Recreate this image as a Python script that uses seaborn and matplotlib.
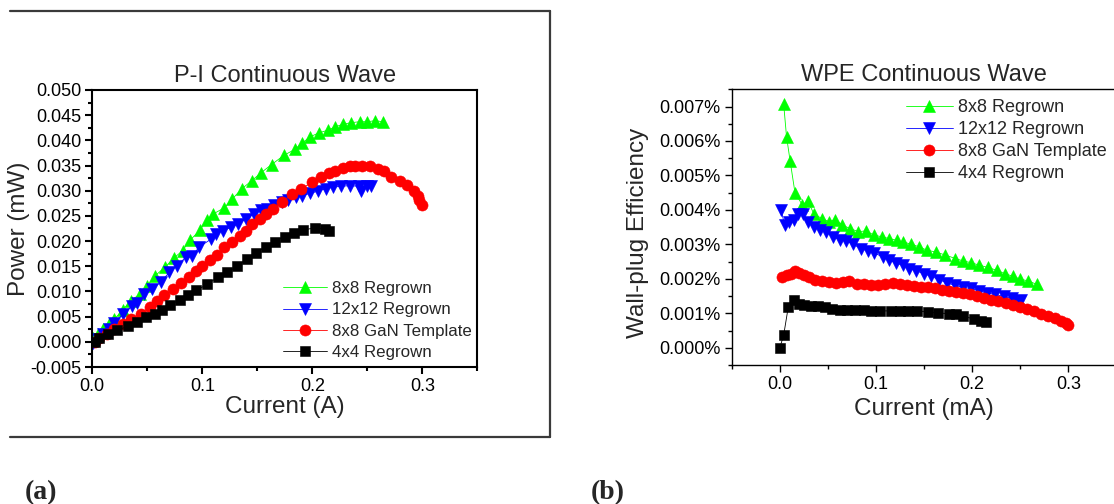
import numpy as np
import matplotlib
matplotlib.use("Agg")
import matplotlib.pyplot as plt
from matplotlib.lines import Line2D
from matplotlib.ticker import MultipleLocator, FuncFormatter
import seaborn as sns

# ---- data ----
series_names = ["8x8 Regrown", "12x12 Regrown", "8x8 GaN Template", "4x4 Regrown"]
series_colors = ["#00ff00", "#0000ff", "#ff0000", "#000000"]
series_markers = ["^", "v", "o", "s"]

# (a) P-I, current (A) vs power (mW)
pi_8x8_x = [0.001, 0.005, 0.010, 0.015, 0.020, 0.028, 0.035, 0.043, 0.050, 0.057, 0.066, 0.074,
            0.082, 0.089, 0.098, 0.104, 0.110, 0.120, 0.127, 0.136, 0.145, 0.153, 0.163, 0.174,
            0.184, 0.191, 0.198, 0.206, 0.214, 0.221, 0.228, 0.235, 0.243, 0.250, 0.257, 0.264]
pi_8x8_y = [0.0008, 0.0015, 0.0025, 0.0035, 0.0045, 0.0064, 0.0082, 0.0094, 0.0111, 0.0131, 0.0148, 0.0166,
            0.0181, 0.0202, 0.0222, 0.0242, 0.0254, 0.0266, 0.0283, 0.0304, 0.0320, 0.0335, 0.0352, 0.0370,
            0.0382, 0.0395, 0.0407, 0.0415, 0.0420, 0.0427, 0.0432, 0.0435, 0.0437, 0.0437, 0.0439, 0.0437]

pi_12x12_x = [0.001, 0.005, 0.010, 0.015, 0.020, 0.028, 0.036, 0.041, 0.047, 0.054, 0.062, 0.070,
              0.077, 0.085, 0.091, 0.097, 0.108, 0.112, 0.119, 0.126, 0.132, 0.140, 0.147, 0.153,
              0.159, 0.165, 0.172, 0.178, 0.185, 0.191, 0.198, 0.205, 0.212, 0.219, 0.226, 0.234,
              0.242, 0.244, 0.250, 0.253]
pi_12x12_y = [-0.0002, 0.0005, 0.0015, 0.0025, 0.0038, 0.0055, 0.0071, 0.0078, 0.0094, 0.0104, 0.0118, 0.0138,
              0.0151, 0.0168, 0.0171, 0.0188, 0.0204, 0.0214, 0.0221, 0.0227, 0.0234, 0.0244, 0.0254, 0.0261,
              0.0264, 0.0271, 0.0277, 0.0281, 0.0287, 0.0290, 0.0295, 0.0299, 0.0304, 0.0307, 0.0309, 0.0310,
              0.0309, 0.0300, 0.0310, 0.0310]

pi_gan_x = [0.002, 0.0065, 0.013, 0.0195, 0.0276, 0.035, 0.0439, 0.052, 0.0585, 0.0656, 0.0731, 0.0806,
            0.0877, 0.0943, 0.1001, 0.1072, 0.1137, 0.1196, 0.1267, 0.1339, 0.1397, 0.1456, 0.1521, 0.1576,
            0.1641, 0.1722, 0.1813, 0.1901, 0.1999, 0.208, 0.2151, 0.221, 0.2275, 0.234, 0.2389, 0.2454,
            0.2528, 0.2593, 0.2649, 0.2714, 0.2795, 0.286, 0.2925, 0.2957, 0.2974, 0.2996]
pi_gan_y = [0.0000, 0.0007, 0.0015, 0.0025, 0.0035, 0.0045, 0.0056, 0.0069, 0.0082, 0.0093, 0.0104, 0.0116,
            0.0129, 0.0141, 0.0151, 0.0162, 0.0173, 0.0188, 0.0199, 0.0211, 0.0221, 0.0233, 0.0244, 0.0254,
            0.0264, 0.0277, 0.0293, 0.0304, 0.0317, 0.0327, 0.0335, 0.0340, 0.0346, 0.0349, 0.0350, 0.0350,
            0.0350, 0.0344, 0.0339, 0.0327, 0.0319, 0.0311, 0.0299, 0.0289, 0.0282, 0.0271]

pi_4x4_x = [0.002, 0.0065, 0.0146, 0.0227, 0.0325, 0.0406, 0.0487, 0.0569, 0.0634, 0.0708, 0.0796, 0.0871,
            0.0942, 0.1046, 0.1144, 0.1228, 0.1316, 0.1404, 0.1488, 0.1576, 0.1657, 0.1748, 0.1836, 0.1911,
            0.2021, 0.2112, 0.2151]
pi_4x4_y = [0.0000, 0.0007, 0.0015, 0.0023, 0.0031, 0.0040, 0.0049, 0.0056, 0.0063, 0.0073, 0.0084, 0.0093,
            0.0102, 0.0114, 0.0129, 0.0138, 0.0150, 0.0164, 0.0176, 0.0189, 0.0199, 0.0209, 0.0216, 0.0222,
            0.0226, 0.0224, 0.0220]

# (b) WPE, current vs wall-plug efficiency (in %)
wpe_8x8_x = [0.004, 0.007, 0.0107, 0.0158, 0.0235, 0.029, 0.0356, 0.0437, 0.051, 0.0577, 0.065, 0.0731,
             0.0815, 0.0896, 0.098, 0.1061, 0.1135, 0.1216, 0.1282, 0.1362, 0.1447, 0.1531, 0.162, 0.1722,
             0.1825, 0.1906, 0.1987, 0.2071, 0.2163, 0.2255, 0.2339, 0.242, 0.2501, 0.2585, 0.267]
wpe_8x8_y = [0.00708, 0.00613, 0.00543, 0.00450, 0.00414, 0.00426, 0.00388, 0.00375, 0.00366, 0.00372, 0.00356, 0.00346,
             0.00337, 0.00339, 0.00327, 0.00322, 0.00317, 0.00312, 0.00307, 0.00301, 0.00293, 0.00283, 0.00278, 0.00269,
             0.00259, 0.00252, 0.00247, 0.00240, 0.00233, 0.00225, 0.00215, 0.00208, 0.00199, 0.00194, 0.00184]

wpe_12x12_x = [0.0015, 0.005, 0.0099, 0.0143, 0.0187, 0.0246, 0.0297, 0.0356, 0.0419, 0.0481, 0.0555, 0.0621,
               0.0687, 0.076, 0.0841, 0.0914, 0.0981, 0.1069, 0.1135, 0.1208, 0.1282, 0.1348, 0.1421, 0.1502,
               0.1575, 0.1656, 0.1741, 0.1825, 0.1906, 0.1987, 0.2071, 0.2156, 0.2237, 0.2328, 0.2413, 0.2464,
               0.2512]
wpe_12x12_y = [0.00399, 0.00356, 0.00366, 0.00372, 0.00388, 0.00388, 0.00366, 0.00351, 0.00343, 0.00336, 0.00322, 0.00314,
               0.00310, 0.00301, 0.00288, 0.00281, 0.00275, 0.00264, 0.00254, 0.00246, 0.00239, 0.00230, 0.00223, 0.00215,
               0.00207, 0.00198, 0.00188, 0.00181, 0.00175, 0.00172, 0.00165, 0.00159, 0.00155, 0.00149, 0.00143, 0.00136,
               0.00140]

wpe_gan_x = [0.0026, 0.007, 0.0114, 0.0154, 0.0198, 0.0253, 0.0308, 0.0364, 0.0437, 0.051, 0.0584, 0.0657,
             0.0723, 0.0804, 0.0878, 0.0951, 0.1025, 0.1098, 0.1172, 0.1245, 0.1318, 0.1392, 0.1465, 0.1539,
             0.1612, 0.1686, 0.1759, 0.1833, 0.1906, 0.198, 0.2053, 0.2126, 0.22, 0.2273, 0.2347, 0.242,
             0.2494, 0.2567, 0.2641, 0.2714, 0.2787, 0.2861, 0.2927, 0.2971, 0.300]
wpe_gan_y = [0.00206, 0.00210, 0.00215, 0.00223, 0.00217, 0.00210, 0.00204, 0.00198, 0.00194, 0.00191, 0.00189, 0.00191,
             0.00194, 0.00186, 0.00184, 0.00183, 0.00181, 0.00186, 0.00189, 0.00184, 0.00181, 0.00178, 0.00176, 0.00175,
             0.00172, 0.00169, 0.00165, 0.00162, 0.00159, 0.00155, 0.00149, 0.00144, 0.00140, 0.00136, 0.00130, 0.00125,
             0.00118, 0.00113, 0.00107, 0.00099, 0.00091, 0.00087, 0.00079, 0.00072, 0.00065]

wpe_4x4_x = [0.000, 0.004, 0.0088, 0.0143, 0.0198, 0.0253, 0.0327, 0.040, 0.0474, 0.0547, 0.0621, 0.0701,
             0.0786, 0.0878, 0.0951, 0.1043, 0.1153, 0.1245, 0.1337, 0.1429, 0.1539, 0.1649, 0.1759, 0.1833,
             0.1906, 0.2016, 0.209, 0.2145]
wpe_4x4_y = [0.00000, 0.00036, 0.00118, 0.00138, 0.00128, 0.00123, 0.00121, 0.00121, 0.00118, 0.00113, 0.00110, 0.00109,
             0.00109, 0.00109, 0.00107, 0.00107, 0.00107, 0.00107, 0.00106, 0.00106, 0.00104, 0.00101, 0.00099, 0.00097,
             0.00091, 0.00084, 0.00079, 0.00075]

pi_series = [(pi_8x8_x, pi_8x8_y), (pi_12x12_x, pi_12x12_y), (pi_gan_x, pi_gan_y), (pi_4x4_x, pi_4x4_y)]
wpe_series = [(wpe_8x8_x, wpe_8x8_y), (wpe_12x12_x, wpe_12x12_y), (wpe_gan_x, wpe_gan_y), (wpe_4x4_x, wpe_4x4_y)]

# ---- style ----
sns.set_theme(style="white")
plt.rcParams["font.family"] = ["Liberation Sans", "DejaVu Sans"]
plt.rcParams["axes.unicode_minus"] = False

W, H = 1114, 504
fig = plt.figure(figsize=(W / 100, H / 100), dpi=100)

def fx(px):
    return px / W

def fy(py):
    return 1 - py / H

marker_sizes = [8.5, 8.5, 8, 6.5]


def draw(ax, series, spine_w):
    for (xs, ys), name, col, mk, ms in zip(series, series_names, series_colors, series_markers, marker_sizes):
        sns.lineplot(x=xs, y=ys, ax=ax, sort=False, estimator=None, color=col, linewidth=0.6,
                     marker=mk, markersize=ms, markeredgecolor=col, markeredgewidth=0.4,
                     markerfacecolor=col, label=name)
    for s in ax.spines.values():
        s.set_linewidth(spine_w)
        s.set_color("black")
    ax.tick_params(which="both", direction="out", left=True, bottom=True, colors="black",
                   labelsize=13, width=spine_w)
    ax.tick_params(which="major", length=5, pad=3)
    ax.tick_params(which="minor", length=3)


# (a) P-I
ax1 = fig.add_axes([fx(92.3), fy(367), fx(477.3 - 92.3), (367 - 90) / H])
draw(ax1, pi_series, 1.5)
ax1.set_xlim(0, 0.35)
ax1.set_ylim(-0.005, 0.050)
ax1.xaxis.set_major_locator(MultipleLocator(0.1))
ax1.xaxis.set_minor_locator(MultipleLocator(0.05))
ax1.yaxis.set_major_locator(MultipleLocator(0.005))
ax1.yaxis.set_minor_locator(MultipleLocator(0.0025))
ax1.xaxis.set_major_formatter(FuncFormatter(lambda v, p: f"{v:.1f}"))
ax1.yaxis.set_major_formatter(FuncFormatter(lambda v, p: f"{v:.3f}"))
ax1.set_title("P-I Continuous Wave", fontsize=17, pad=6)
ax1.set_xlabel("Current (A)", fontsize=17.5)
ax1.set_ylabel("Power (mW)", fontsize=17.5)
ax1.xaxis.set_label_coords(0.5, -0.105)
ax1.yaxis.set_label_coords(-0.162, 0.5)
ax1.legend(loc="upper left", bbox_to_anchor=(fx(283), fy(281)), bbox_transform=fig.transFigure,
           frameon=False, fontsize=12.2, handlelength=2.6, handletextpad=0.3, labelspacing=0.38,
           borderpad=0, borderaxespad=0, numpoints=1)

# (b) WPE
ax2 = fig.add_axes([fx(731.7), fy(365), fx(1116.4 - 731.7), (365 - 89.3) / H])
draw(ax2, wpe_series, 1.0)
ax2.set_xlim(-0.05, 0.35)
ax2.set_ylim(-0.0005, 0.0075)
ax2.xaxis.set_major_locator(MultipleLocator(0.1))
ax2.xaxis.set_minor_locator(MultipleLocator(0.05))
ax2.yaxis.set_major_locator(MultipleLocator(0.001))
ax2.yaxis.set_minor_locator(MultipleLocator(0.0005))
ax2.xaxis.set_major_formatter(FuncFormatter(lambda v, p: f"{v:.1f}"))
ax2.yaxis.set_major_formatter(FuncFormatter(lambda v, p: f"{v:.3f}%"))
ax2.set_title("WPE Continuous Wave", fontsize=17, pad=6)
ax2.set_xlabel("Current (mA)", fontsize=17.5)
ax2.set_ylabel("Wall-plug Efficiency", fontsize=17.5)
ax2.xaxis.set_label_coords(0.5, -0.12)
ax2.yaxis.set_label_coords(-0.215, 0.48)
ax2.spines["right"].set_visible(False)
ax2.legend(loc="upper left", bbox_to_anchor=(fx(906), fy(99)), bbox_transform=fig.transFigure,
           frameon=False, fontsize=13, handlelength=2.6, handletextpad=0.3, labelspacing=0.28,
           borderpad=0, borderaxespad=0, numpoints=1)

# frame around panel (a)
frame_col = "#3a3a3a"
fig.add_artist(Line2D([fx(10), fx(550)], [fy(11), fy(11)], color=frame_col, lw=1.6, transform=fig.transFigure))
fig.add_artist(Line2D([fx(10), fx(550)], [fy(437), fy(437)], color=frame_col, lw=1.6, transform=fig.transFigure))
fig.add_artist(Line2D([fx(550), fx(550)], [fy(11), fy(437)], color=frame_col, lw=1.6, transform=fig.transFigure))

# panel letters
fig.text(fx(25), fy(493), "(a)", fontsize=20, fontweight="bold", family=["Liberation Serif", "DejaVu Serif"],
         ha="left", va="center")
fig.text(fx(591), fy(493), "(b)", fontsize=20, fontweight="bold", family=["Liberation Serif", "DejaVu Serif"],
         ha="left", va="center")

fig.savefig("out.png", dpi=100)
